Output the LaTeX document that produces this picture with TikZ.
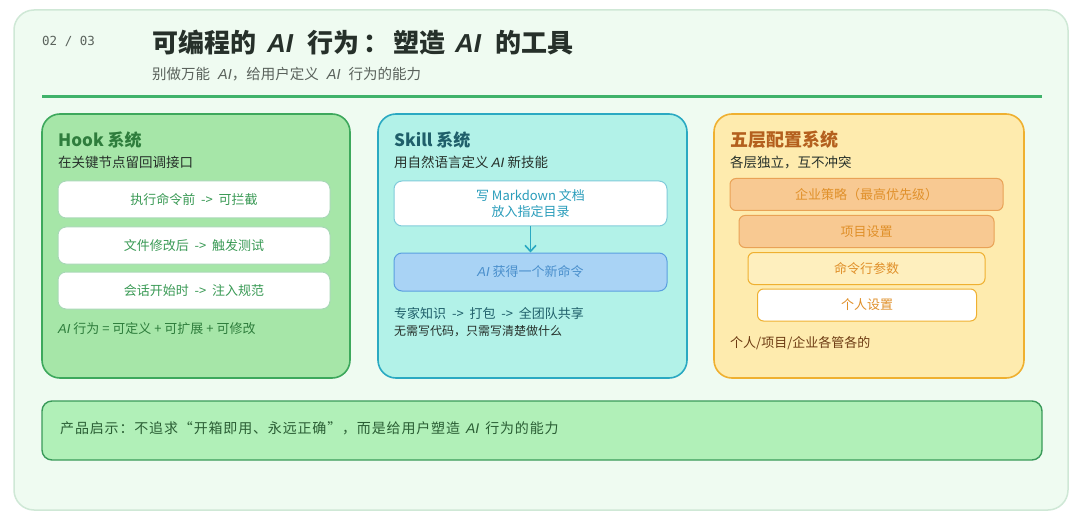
\documentclass[tikz,border=0pt]{standalone}
\usepackage{fontspec}
\setmainfont{Noto Sans CJK SC}
\newfontfamily\latinit{Liberation Sans}
\newfontfamily\monofam{DejaVu Sans Mono}
\newcommand\ai{{\latinit\itshape AI}}
\usetikzlibrary{arrows.meta}
\definecolor{cardfill}{HTML}{EFFBF1}
\definecolor{cardline}{HTML}{CFE8D6}
\definecolor{rule}{HTML}{3FB26A}
\definecolor{hookfill}{HTML}{A6E6A8}
\definecolor{hookline}{HTML}{3DA85C}
\definecolor{hooktitle}{HTML}{2E7D3C}
\definecolor{hooktext}{HTML}{3A9A55}
\definecolor{skillfill}{HTML}{B2F2E8}
\definecolor{skillline}{HTML}{2AA9C2}
\definecolor{skilltitle}{HTML}{1F5F6A}
\definecolor{skilltext}{HTML}{2A9DBB}
\definecolor{bluefill}{HTML}{A9D3F5}
\definecolor{blueline}{HTML}{5A9FE0}
\definecolor{bluetext}{HTML}{4A8FCC}
\definecolor{cfgfill}{HTML}{FEEBAE}
\definecolor{cfgline}{HTML}{EFB030}
\definecolor{cfgtitle}{HTML}{B4601E}
\definecolor{peach}{HTML}{F8C992}
\definecolor{peachline}{HTML}{E9A256}
\definecolor{cfgtext}{HTML}{E0902A}
\definecolor{barfill}{HTML}{B1F0B8}
\definecolor{barline}{HTML}{3A9A5A}
\definecolor{bartext}{HTML}{2A5E34}
\definecolor{darktext}{HTML}{26302A}
\definecolor{graytext}{HTML}{5A625C}
\begin{document}
\begin{tikzpicture}[x=1pt,y=-1pt,
  panel/.style={line width=1.6pt,rounded corners=18pt},
  ptitle/.style={anchor=west,font=\fontsize{17}{19}\selectfont\bfseries,inner sep=0pt},
  psub/.style={anchor=west,font=\fontsize{13.5}{15}\selectfont,text=darktext,inner sep=0pt},
  hookbox/.style={draw=hookline!45,fill=white,line width=1pt,rounded corners=8pt,minimum width=272pt,minimum height=37pt,font=\fontsize{13}{15}\selectfont,text=hooktext},
  cfgbox/.style={line width=1pt,rounded corners=6pt,minimum height=32pt,font=\fontsize{13}{15}\selectfont,text=cfgtext},
  note/.style={anchor=west,font=\fontsize{13}{15}\selectfont,inner sep=0pt}]
\useasboundingbox (0,0) rectangle (1080,524);
\fill[white] (0,0) rectangle (1080,524);
\draw[fill=cardfill,draw=cardline,line width=1.5pt,rounded corners=20pt] (14,10) rectangle (1068,510);
% header
\node[anchor=west,inner sep=0pt,text=graytext,font=\monofam\fontsize{12.5}{15}\selectfont] (page) at (42,41) {02 / 03};
\node[anchor=west,inner sep=0pt,text=darktext,font=\fontsize{26}{30}\selectfont\bfseries] (title) at (152,43) {可编程的\hspace{11pt}\ai\hspace{14pt}行为\hspace{4pt}：\hspace{4pt}塑造\hspace{10pt}\ai\hspace{14pt}的工具};
\node[anchor=west,inner sep=0pt,text=graytext,font=\fontsize{14.5}{16}\selectfont] (subtitle) at (152,74) {别做万能\hspace{8pt}\ai，给用户定义\hspace{8pt}\ai\hspace{8pt}行为的能力};
\draw[rule,line width=3pt] (42,97) -- (1042,97);
% Hook panel
\draw[panel,fill=hookfill,draw=hookline] (42,114) rectangle (350,378);
\node[ptitle,text=hooktitle] (hookt) at (58,140) {Hook 系统};
\node[psub] (hooks) at (58,162) {在关键节点留回调接口};
\node[hookbox] (h1) at (194,199.5) {执行命令前 \ -> \ 可拦截};
\node[hookbox] (h2) at (194,245.5) {文件修改后 \ -> \ 触发测试};
\node[hookbox] (h3) at (194,290.5) {会话开始时 \ -> \ 注入规范};
\node[note,text=hooktitle] (hookn) at (58,329) {\ai\ 行为 = 可定义 + 可扩展 + 可修改};
% Skill panel
\draw[panel,fill=skillfill,draw=skillline] (378,114) rectangle (687,378);
\node[ptitle,text=skilltitle] (skillt) at (394,140) {Skill 系统};
\node[psub] (skills) at (394,162) {用自然语言定义 \ai\ 新技能};
\node[draw=skillline!60,fill=white,line width=1pt,rounded corners=8pt,minimum width=273pt,minimum height=45pt,align=center,font=\fontsize{13}{16}\selectfont,text=skilltext] (s1) at (530.5,203.5) {写 Markdown 文档\\放入指定目录};
\node[draw=blueline,fill=bluefill,line width=1pt,rounded corners=8pt,minimum width=273pt,minimum height=38pt,font=\fontsize{13}{15}\selectfont,text=bluetext] (s2) at (530.5,272) {\ai\ 获得一个新命令};
\draw[-{Straight Barb[length=6pt,width=11pt,line width=1.6pt]},skillline,line width=1.6pt] (s1) -- (s2);
\node[note,text=skilltitle] (skilln1) at (394,314) {专家知识 \ -> \ 打包 \ -> \ 全团队共享};
\node[note,text=darktext,font=\fontsize{12}{14}\selectfont] (skilln2) at (394,331) {无需写代码，只需写清楚做什么};
% Config panel
\draw[panel,fill=cfgfill,draw=cfgline] (714,114) rectangle (1024,378);
\node[ptitle,text=cfgtitle,font=\fontsize{18}{20}\selectfont\bfseries] (cfgt) at (730,140) {五层配置系统};
\node[psub] (cfgs) at (730,162) {各层独立，互不冲突};
\node[cfgbox,fill=peach,draw=peachline,minimum width=273pt] (c1) at (866.5,194.5) {企业策略（最高优先级）};
\node[cfgbox,fill=peach,draw=peachline,minimum width=255pt] (c2) at (866.5,231.5) {项目设置};
\node[cfgbox,fill=cfgfill!80!white,draw=cfgline,minimum width=237pt] (c3) at (866.5,268.5) {命令行参数};
\node[cfgbox,fill=white,draw=cfgline,minimum width=219pt] (c4) at (867,305) {个人设置};
\node[note,text=cfgtitle!60!black] (cfgn) at (730,343) {个人/项目/企业各管各的};
% bottom bar
\draw[fill=barfill,draw=barline,line width=1.4pt,rounded corners=10pt] (42,401) rectangle (1042,460);
\node[anchor=west,inner sep=0pt,text=bartext,font=\fontsize{14}{16}\selectfont\addfontfeatures{LetterSpace=6}] (bar) at (60,428) {产品启示：不追求“开箱即用、永远正确”，而是给用户塑造\hspace{6pt}\ai\hspace{6pt}行为的能力};
\end{tikzpicture}
\end{document}
